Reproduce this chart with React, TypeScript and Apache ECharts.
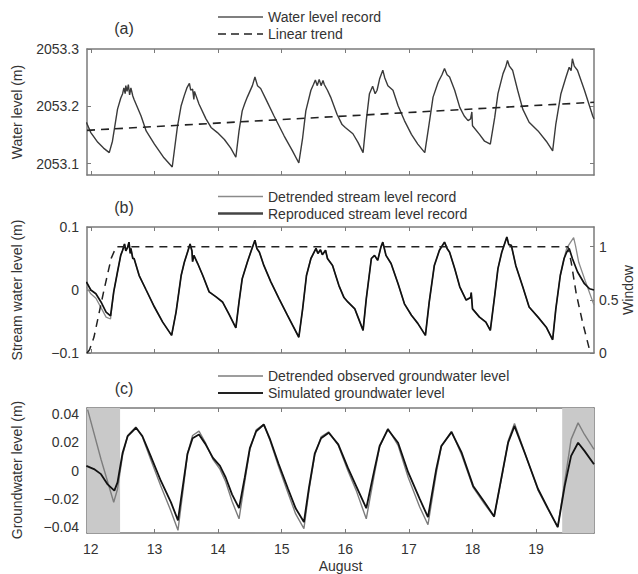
import React, { useEffect, useRef } from "react";
import * as echarts from "echarts";

const FONT = "Liberation Sans";
const TEXT = "#333";
const FRAME = "#7a7a7a";
const X_MIN = 11.94;
const X_MAX = 19.91;

const dayTicks = [12, 13, 14, 15, 16, 17, 18, 19];
const waterTicks = [2053.1, 2053.2, 2053.3];
const streamTicks = [-0.1, 0, 0.1];
const windowTicks = [0, 0.5, 1];
const gwTicks = [-0.04, -0.02, 0, 0.02, 0.04];
const shadedSpans = [[11.94, 12.46], [19.41, 19.91]];

const waterLevel: [number, number][] = [
  [11.93, 2053.172], [12.0, 2053.154], [12.11, 2053.137], [12.2, 2053.127], [12.29, 2053.119],
  [12.34, 2053.139], [12.42, 2053.195], [12.47, 2053.214], [12.5, 2053.222], [12.52, 2053.232],
  [12.54, 2053.222], [12.55, 2053.236], [12.57, 2053.226], [12.59, 2053.238], [12.61, 2053.22],
  [12.63, 2053.232], [12.66, 2053.218], [12.68, 2053.212], [12.71, 2053.204], [12.79, 2053.183],
  [12.87, 2053.157], [13.0, 2053.134], [13.15, 2053.11], [13.28, 2053.094], [13.36, 2053.163],
  [13.42, 2053.201], [13.47, 2053.219], [13.51, 2053.232], [13.55, 2053.24], [13.57, 2053.228],
  [13.6, 2053.23], [13.62, 2053.212], [13.63, 2053.226], [13.7, 2053.204], [13.81, 2053.178],
  [13.89, 2053.163], [13.99, 2053.154], [14.1, 2053.142], [14.2, 2053.127], [14.28, 2053.111],
  [14.33, 2053.157], [14.38, 2053.192], [14.42, 2053.205], [14.46, 2053.216], [14.5, 2053.226],
  [14.54, 2053.236], [14.58, 2053.251], [14.62, 2053.236], [14.67, 2053.231], [14.75, 2053.213],
  [14.88, 2053.183], [15.04, 2053.148], [15.17, 2053.122], [15.27, 2053.101], [15.33, 2053.145],
  [15.38, 2053.192], [15.46, 2053.228], [15.5, 2053.238], [15.53, 2053.246], [15.56, 2053.236],
  [15.59, 2053.247], [15.62, 2053.236], [15.65, 2053.245], [15.67, 2053.238], [15.72, 2053.228],
  [15.77, 2053.216], [15.87, 2053.186], [15.95, 2053.168], [16.0, 2053.163], [16.12, 2053.152],
  [16.2, 2053.137], [16.28, 2053.119], [16.33, 2053.175], [16.38, 2053.222], [16.43, 2053.235],
  [16.47, 2053.222], [16.5, 2053.228], [16.54, 2053.248], [16.59, 2053.263], [16.62, 2053.25],
  [16.67, 2053.236], [16.75, 2053.228], [16.83, 2053.201], [16.93, 2053.175], [17.04, 2053.151],
  [17.14, 2053.134], [17.25, 2053.119], [17.31, 2053.163], [17.38, 2053.216], [17.46, 2053.242],
  [17.52, 2053.255], [17.56, 2053.266], [17.6, 2053.255], [17.64, 2053.251], [17.72, 2053.228],
  [17.8, 2053.198], [17.87, 2053.183], [17.93, 2053.175], [17.97, 2053.178], [17.99, 2053.19],
  [18.0, 2053.166], [18.11, 2053.151], [18.19, 2053.139], [18.28, 2053.134], [18.35, 2053.181],
  [18.4, 2053.222], [18.48, 2053.257], [18.52, 2053.268], [18.55, 2053.28], [18.58, 2053.27],
  [18.63, 2053.263], [18.71, 2053.228], [18.79, 2053.195], [18.89, 2053.172], [19.03, 2053.157],
  [19.16, 2053.139], [19.26, 2053.122], [19.31, 2053.169], [19.39, 2053.222], [19.47, 2053.251],
  [19.52, 2053.268], [19.55, 2053.262], [19.57, 2053.283], [19.6, 2053.27], [19.65, 2053.263],
  [19.76, 2053.228], [19.89, 2053.183], [19.91, 2053.178],
];

const linearTrend: [number, number][] = [[11.94, 2053.158], [19.91, 2053.207]];

const streamStartDetrended: [number, number][] = [
  [11.93, 0.005], [12.0, -0.006], [12.08, -0.013], [12.16, -0.028], [12.24, -0.043], [12.31, -0.046],
];
const streamStartReproduced: [number, number][] = [
  [11.93, 0.013], [12.0, 0.0], [12.08, -0.006], [12.16, -0.019], [12.24, -0.035], [12.31, -0.041],
];
const streamMiddle: [number, number][] = [
  [12.36, -0.003], [12.42, 0.029], [12.47, 0.055], [12.5, 0.063], [12.53, 0.073], [12.55, 0.062],
  [12.58, 0.068], [12.6, 0.076], [12.62, 0.058], [12.63, 0.066], [12.66, 0.05], [12.68, 0.05],
  [12.76, 0.023], [12.87, 0.0], [13.0, -0.027], [13.13, -0.051], [13.27, -0.072], [13.34, -0.035],
  [13.42, 0.023], [13.47, 0.044], [13.52, 0.06], [13.56, 0.073], [13.59, 0.062], [13.6, 0.045],
  [13.62, 0.055], [13.68, 0.042], [13.76, 0.023], [13.86, -0.003], [13.97, -0.011], [14.07, -0.019],
  [14.17, -0.038], [14.28, -0.06], [14.33, -0.019], [14.38, 0.018], [14.46, 0.044], [14.52, 0.062],
  [14.58, 0.079], [14.61, 0.066], [14.65, 0.06], [14.72, 0.039], [14.83, 0.013], [14.96, -0.014],
  [15.09, -0.04], [15.27, -0.075], [15.33, -0.03], [15.39, 0.023], [15.46, 0.05], [15.54, 0.066],
  [15.57, 0.058], [15.61, 0.064], [15.64, 0.056], [15.69, 0.063], [15.72, 0.05], [15.8, 0.039],
  [15.9, 0.007], [15.98, -0.012], [16.04, -0.019], [16.15, -0.03], [16.28, -0.064], [16.33, -0.014],
  [16.41, 0.05], [16.46, 0.055], [16.51, 0.047], [16.56, 0.068], [16.59, 0.076], [16.64, 0.055],
  [16.72, 0.042], [16.83, 0.01], [16.93, -0.022], [17.04, -0.04], [17.14, -0.053], [17.26, -0.072],
  [17.32, -0.019], [17.4, 0.039], [17.48, 0.063], [17.56, 0.076], [17.6, 0.066], [17.64, 0.06],
  [17.72, 0.034], [17.8, 0.005], [17.9, -0.016], [17.97, -0.012], [17.98, -0.004], [18.0, -0.03],
  [18.11, -0.043], [18.21, -0.051], [18.28, -0.064], [18.35, -0.008], [18.4, 0.034], [18.46, 0.06],
  [18.51, 0.075], [18.54, 0.084], [18.57, 0.072], [18.61, 0.071], [18.68, 0.039], [18.79, 0.005],
  [18.89, -0.027], [19.03, -0.043], [19.16, -0.059], [19.26, -0.079], [19.31, -0.03], [19.38, 0.023],
  [19.44, 0.05],
];
const streamEndDetrended: [number, number][] = [
  [19.48, 0.066], [19.53, 0.074], [19.59, 0.083], [19.62, 0.07], [19.67, 0.044], [19.77, 0.015], [19.91, -0.024],
];
const streamEndReproduced: [number, number][] = [
  [19.48, 0.06], [19.52, 0.066], [19.57, 0.05], [19.65, 0.029], [19.76, 0.01], [19.84, 0.002], [19.91, 0.0],
];

const windowFn: [number, number][] = [
  [11.94, 0], [11.98, 0.03], [12.05, 0.15], [12.11, 0.32], [12.21, 0.6], [12.32, 0.89], [12.4, 1.0],
  [19.5, 1.0], [19.55, 0.86], [19.63, 0.56], [19.73, 0.29], [19.84, 0.03], [19.87, 0],
];

const gwObserved: [number, number][] = [
  [11.95, 0.0434], [12.16, 0.008], [12.36, -0.0227], [12.42, -0.0132], [12.5, 0.011], [12.58, 0.025],
  [12.71, 0.031], [12.81, 0.024], [12.94, 0.008], [13.1, -0.011], [13.26, -0.029], [13.37, -0.0427],
  [13.45, -0.014], [13.52, 0.012], [13.6, 0.025], [13.7, 0.0281], [13.8, 0.02], [13.92, 0.008],
  [14.03, 0.001], [14.12, -0.008], [14.22, -0.022], [14.33, -0.0345], [14.42, -0.008], [14.5, 0.015],
  [14.6, 0.029], [14.72, 0.033], [14.82, 0.021], [14.95, 0.003], [15.1, -0.016], [15.22, -0.031],
  [15.35, -0.0415], [15.43, -0.014], [15.52, 0.011], [15.62, 0.024], [15.74, 0.0275], [15.89, 0.018],
  [16.04, 0.0], [16.17, -0.014], [16.33, -0.0345], [16.46, -0.002], [16.54, 0.017], [16.67, 0.03],
  [16.83, 0.018], [16.99, -0.005], [17.17, -0.026], [17.3, -0.0387], [17.43, -0.002], [17.51, 0.017],
  [17.67, 0.028], [17.83, 0.011], [18.01, -0.012], [18.19, -0.024], [18.34, -0.033], [18.48, 0.0],
  [18.56, 0.021], [18.66, 0.0335], [18.82, 0.013], [19.03, -0.014], [19.19, -0.028], [19.34, -0.0404],
  [19.45, -0.008], [19.55, 0.0222], [19.66, 0.034], [19.76, 0.0257], [19.91, 0.0151],
];

const gwSimulated: [number, number][] = [
  [11.93, 0.0033], [12.05, 0.001], [12.16, -0.0026], [12.26, -0.0097], [12.37, -0.0144], [12.42, -0.0085],
  [12.5, 0.0127], [12.58, 0.0246], [12.71, 0.0305], [12.81, 0.0246], [12.94, 0.0104], [13.1, -0.0073],
  [13.26, -0.0227], [13.37, -0.0356], [13.45, -0.01], [13.52, 0.012], [13.6, 0.023], [13.7, 0.0257],
  [13.8, 0.019], [13.92, 0.009], [14.03, 0.0033], [14.12, -0.005], [14.22, -0.017], [14.33, -0.0269],
  [14.42, -0.005], [14.5, 0.016], [14.6, 0.028], [14.72, 0.0328], [14.82, 0.022], [14.95, 0.005],
  [15.1, -0.013], [15.22, -0.027], [15.35, -0.0368], [15.43, -0.012], [15.52, 0.012], [15.62, 0.023],
  [15.74, 0.0269], [15.89, 0.0186], [16.04, 0.002], [16.17, -0.011], [16.33, -0.0269], [16.46, 0.001],
  [16.54, 0.0175], [16.67, 0.0293], [16.83, 0.0198], [16.99, -0.0014], [17.17, -0.0203], [17.3, -0.0333],
  [17.43, 0.001], [17.51, 0.0175], [17.67, 0.0274], [17.83, 0.0127], [18.01, -0.011], [18.19, -0.0227],
  [18.34, -0.0328], [18.48, 0.001], [18.56, 0.0198], [18.66, 0.0317], [18.82, 0.0127], [19.03, -0.0132],
  [19.19, -0.0274], [19.34, -0.0404], [19.45, -0.011], [19.55, 0.0104], [19.66, 0.0198], [19.76, 0.014],
  [19.91, 0.0045],
];

const minus = (s: string) => s.replace("-", "\u2212");

function xAxis(grid: number, position: "top" | "bottom", labels: boolean, name?: string) {
  return {
    type: "value",
    gridIndex: grid,
    position,
    min: X_MIN,
    max: X_MAX,
    name: name || "",
    nameLocation: "middle",
    nameGap: 25,
    nameTextStyle: { fontFamily: FONT, fontSize: 14, color: TEXT, lineHeight: 15, verticalAlign: "top" },
    axisLine: { show: true, onZero: false, lineStyle: { color: FRAME, width: 1.5 } },
    axisTick: { show: true, inside: true, length: 4, customValues: dayTicks, lineStyle: { color: FRAME } },
    axisLabel: {
      show: labels, customValues: dayTicks, margin: 8,
      fontFamily: FONT, fontSize: 14, color: TEXT, lineHeight: 15,
      formatter: (v: number) => String(Math.round(v)),
    },
    splitLine: { show: false },
  };
}

function yAxis(grid: number, position: "left" | "right", min: number, max: number, ticks: number[], labels: boolean, fmt: (v: number) => string) {
  return {
    type: "value",
    gridIndex: grid,
    position,
    min,
    max,
    axisLine: { show: true, onZero: false, lineStyle: { color: FRAME, width: 1.5 } },
    axisTick: { show: true, inside: true, length: 4, customValues: ticks, lineStyle: { color: FRAME } },
    axisLabel: {
      show: labels, customValues: ticks, margin: position === "left" ? 8 : 5,
      fontFamily: FONT, fontSize: 14, color: TEXT, formatter: fmt,
    },
    splitLine: { show: false },
  };
}

function lineSeries(data: [number, number][], xi: number, yi: number, color: string, width: number, dashed = false, z = 3) {
  return {
    type: "line",
    xAxisIndex: xi,
    yAxisIndex: yi,
    data,
    showSymbol: false,
    symbol: "none",
    z,
    silent: true,
    lineStyle: { color, width, type: dashed ? [8, 6] : "solid" },
  };
}

function legendItem(y: number, label: string, color: string, width: number, dashed = false) {
  return [
    {
      type: "line",
      shape: { x1: 218, y1: y, x2: 263, y2: y },
      style: { stroke: color, lineWidth: width, lineDash: dashed ? [8, 5] : null },
    },
    {
      type: "text",
      x: 268,
      y,
      style: {
        text: label, fontFamily: FONT, fontSize: 14, lineHeight: 15, fill: TEXT,
        verticalAlign: "middle", align: "left",
      },
    },
  ];
}

function rotText(x: number, y: number, text: string) {
  return {
    type: "text",
    x,
    y,
    rotation: Math.PI / 2,
    style: { text, fontFamily: FONT, fontSize: 14, lineHeight: 15, fill: TEXT, align: "center", verticalAlign: "middle" },
  };
}

function panelLabel(y: number, text: string) {
  return {
    type: "text",
    x: 124,
    y,
    style: { text, fontFamily: FONT, fontSize: 16, fill: TEXT, align: "center", verticalAlign: "middle" },
  };
}

export default function App() {
  const ref = useRef<HTMLDivElement>(null);
  useEffect(() => {
    document.body.style.margin = "0";
    const chart = echarts.init(ref.current!, null, { renderer: "svg" });
    const option = {
      animation: false,
      backgroundColor: "#ffffff",
      grid: [
        { left: 87, top: 49, width: 507, height: 126 },
        { left: 87, top: 227, width: 507, height: 126 },
        { left: 87, top: 408, width: 507, height: 126 },
      ],
      xAxis: [
        xAxis(0, "bottom", false),
        xAxis(0, "top", false),
        xAxis(1, "bottom", false),
        xAxis(1, "top", false),
        xAxis(2, "bottom", true, "August"),
        xAxis(2, "top", false),
      ],
      yAxis: [
        yAxis(0, "left", 2053.08, 2053.3, waterTicks, true, (v) => v.toFixed(1)),
        yAxis(0, "right", 2053.08, 2053.3, waterTicks, false, (v) => v.toFixed(1)),
        yAxis(1, "left", -0.1, 0.1, streamTicks, true, (v) => minus(Math.abs(v) < 1e-9 ? "0" : v.toFixed(1))),
        yAxis(1, "right", 0, 1.185, windowTicks, true, (v) => (v === 0 ? "0" : v === 1 ? "1" : "0.5")),
        yAxis(2, "left", -0.0446, 0.0446, gwTicks, true, (v) => minus(Math.abs(v) < 1e-9 ? "0" : v.toFixed(2))),
        yAxis(2, "right", -0.0446, 0.0446, gwTicks, false, (v) => v.toFixed(2)),
      ],
      series: [
        lineSeries(waterLevel, 0, 0, "#3a3a3a", 1.4),
        lineSeries(linearTrend, 0, 0, "#222", 1.6, true),
        lineSeries([...streamStartDetrended, ...streamMiddle, ...streamEndDetrended], 2, 2, "#8a8a8a", 1.3, false, 3),
        lineSeries([...streamStartReproduced, ...streamMiddle, ...streamEndReproduced], 2, 2, "#111", 1.7, false, 4),
        lineSeries(windowFn, 2, 3, "#222", 1.5, true, 5),
        {
          type: "line",
          xAxisIndex: 4,
          yAxisIndex: 4,
          data: [[X_MIN, 0]],
          symbol: "none",
          lineStyle: { width: 0 },
          z: 1,
          silent: true,
          markArea: {
            silent: true,
            itemStyle: { color: "#c9c9c9" },
            data: shadedSpans.map(([a, b]) => [{ xAxis: a }, { xAxis: b }]),
          },
        },
        lineSeries(gwObserved, 4, 4, "#7d7d7d", 1.4, false, 3),
        lineSeries(gwSimulated, 4, 4, "#111", 1.8, false, 4),
      ],
      graphic: [
        panelLabel(28, "(a)"),
        panelLabel(207, "(b)"),
        panelLabel(388, "(c)"),
        ...legendItem(17, "Water level record", "#555", 1.3),
        ...legendItem(34, "Linear trend", "#222", 1.6, true),
        ...legendItem(196.5, "Detrended stream level record", "#8a8a8a", 1.3),
        ...legendItem(213.5, "Reproduced stream level record", "#444", 2.4),
        ...legendItem(376, "Detrended observed groundwater level", "#7d7d7d", 1.3),
        ...legendItem(393, "Simulated groundwater level", "#222", 1.8),
        rotText(17, 112, "Water level (m)"),
        rotText(17, 290, "Stream water level (m)"),
        rotText(17, 470, "Groundwater level (m)"),
        rotText(628, 290, "Window"),
      ],
    };
    chart.setOption(option as any);
    return () => chart.dispose();
  }, []);
  return <div ref={ref} style={{ width: 638, height: 574 }} />;
}
